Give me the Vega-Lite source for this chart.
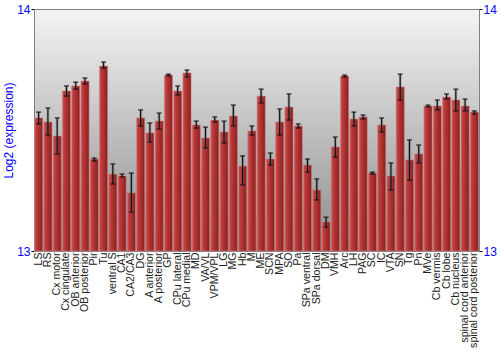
{
  "$schema": "https://vega.github.io/schema/vega-lite/v6.json",
  "width": 445,
  "height": 242,
  "autosize": "none",
  "padding": {"left": 34, "top": 9, "right": 21, "bottom": 99},
  "background": "white",
  "config": {
    "font": "Liberation Sans",
    "view": {
      "stroke": "#808080",
      "strokeWidth": 1,
      "fill": {"gradient": "linear", "x1": 0, "y1": 0, "x2": 0, "y2": 1,
        "stops": [{"offset": 0, "color": "#f4f4f4"}, {"offset": 1, "color": "#8c8c8c"}]}
    }
  },
  "data": {
    "values": [
      {"region": "LS", "value": 13.550, "lo": 13.525, "hi": 13.574},
      {"region": "RS", "value": 13.533, "lo": 13.479, "hi": 13.591},
      {"region": "Cx motor", "value": 13.475, "lo": 13.401, "hi": 13.550},
      {"region": "Cx cingulate", "value": 13.661, "lo": 13.640, "hi": 13.682},
      {"region": "OB anterior", "value": 13.682, "lo": 13.669, "hi": 13.698},
      {"region": "OB posterior", "value": 13.702, "lo": 13.690, "hi": 13.715},
      {"region": "Pir", "value": 13.380, "lo": 13.372, "hi": 13.384},
      {"region": "Tu", "value": 13.764, "lo": 13.756, "hi": 13.781},
      {"region": "ventral S", "value": 13.318, "lo": 13.277, "hi": 13.360},
      {"region": "CA1", "value": 13.310, "lo": 13.306, "hi": 13.318},
      {"region": "CA2/CA3", "value": 13.240, "lo": 13.161, "hi": 13.322},
      {"region": "DG", "value": 13.550, "lo": 13.517, "hi": 13.583},
      {"region": "A anterior", "value": 13.488, "lo": 13.450, "hi": 13.529},
      {"region": "A posterior", "value": 13.537, "lo": 13.504, "hi": 13.570},
      {"region": "GP", "value": 13.727, "lo": 13.723, "hi": 13.731},
      {"region": "CPu lateral", "value": 13.661, "lo": 13.645, "hi": 13.682},
      {"region": "CPu medial", "value": 13.736, "lo": 13.719, "hi": 13.748},
      {"region": "MD", "value": 13.521, "lo": 13.508, "hi": 13.537},
      {"region": "VA/VL", "value": 13.467, "lo": 13.426, "hi": 13.512},
      {"region": "VPM/VPL", "value": 13.541, "lo": 13.533, "hi": 13.554},
      {"region": "LG", "value": 13.492, "lo": 13.446, "hi": 13.537},
      {"region": "MG", "value": 13.558, "lo": 13.517, "hi": 13.603},
      {"region": "Hb", "value": 13.351, "lo": 13.273, "hi": 13.393},
      {"region": "M", "value": 13.496, "lo": 13.479, "hi": 13.517},
      {"region": "ME", "value": 13.640, "lo": 13.612, "hi": 13.669},
      {"region": "SCN", "value": 13.380, "lo": 13.355, "hi": 13.405},
      {"region": "MPA", "value": 13.533, "lo": 13.479, "hi": 13.587},
      {"region": "SO", "value": 13.595, "lo": 13.541, "hi": 13.649},
      {"region": "Pa", "value": 13.517, "lo": 13.508, "hi": 13.525},
      {"region": "SPa ventral", "value": 13.355, "lo": 13.326, "hi": 13.380},
      {"region": "SPa dorsal", "value": 13.252, "lo": 13.211, "hi": 13.298},
      {"region": "DM", "value": 13.120, "lo": 13.099, "hi": 13.140},
      {"region": "VMH", "value": 13.430, "lo": 13.388, "hi": 13.471},
      {"region": "Arc", "value": 13.723, "lo": 13.719, "hi": 13.727},
      {"region": "LH", "value": 13.545, "lo": 13.517, "hi": 13.574},
      {"region": "PAG", "value": 13.554, "lo": 13.545, "hi": 13.562},
      {"region": "SC", "value": 13.322, "lo": 13.318, "hi": 13.326},
      {"region": "IC", "value": 13.521, "lo": 13.492, "hi": 13.550},
      {"region": "VTA", "value": 13.310, "lo": 13.252, "hi": 13.364},
      {"region": "SN", "value": 13.678, "lo": 13.624, "hi": 13.731},
      {"region": "Tg", "value": 13.376, "lo": 13.293, "hi": 13.459},
      {"region": "Pn", "value": 13.401, "lo": 13.364, "hi": 13.438},
      {"region": "MVe", "value": 13.599, "lo": 13.595, "hi": 13.603},
      {"region": "Cb vermis", "value": 13.599, "lo": 13.583, "hi": 13.624},
      {"region": "Cb lobe", "value": 13.636, "lo": 13.628, "hi": 13.649},
      {"region": "Cb nucleus", "value": 13.624, "lo": 13.579, "hi": 13.669},
      {"region": "spinal cord anterior", "value": 13.599, "lo": 13.579, "hi": 13.628},
      {"region": "spinal cord posterior", "value": 13.574, "lo": 13.566, "hi": 13.579}
    ]
  },
  "encoding": {
    "x": {
      "field": "region", "type": "nominal", "sort": null,
      "scale": {"paddingInner": 0.12, "paddingOuter": 0.06},
      "axis": {"title": null, "labelAngle": -90, "labelAlign": "right", "labelBaseline": "middle",
        "labelFontSize": 10.6, "labelColor": "#222222", "labelFont": "Liberation Sans",
        "ticks": false, "domain": false, "labelPadding": 1, "labelOverlap": false}
    }
  },
  "layer": [
    {
      "mark": {"type": "bar",
        "color": {"gradient": "linear", "x1": 0, "y1": 0, "x2": 1, "y2": 0,
          "stops": [{"offset": 0, "color": "#cc5555"}, {"offset": 0.25, "color": "#bd3a3a"}, {"offset": 1, "color": "#8a1f1f"}]},
        "stroke": "#d08080", "strokeOpacity": 0.6, "strokeWidth": 1},
      "encoding": {
        "y": {"field": "value", "type": "quantitative",
          "scale": {"domain": [13, 14], "nice": false, "zero": false},
          "axis": {"orient": "left", "values": [13, 14], "format": "d", "title": "Log2 (expression)", "titleColor": "#0000ff",
            "titleFontWeight": "normal", "titleFontSize": 12, "titleFont": "Liberation Sans", "titlePadding": 1,
            "labelColor": "#0000ff", "labelFontSize": 12, "labelFont": "Liberation Sans", "labelPadding": 1,
            "tickSize": 3, "tickColor": "#000000", "domainColor": "#808080", "grid": false}},
        "y2": {"datum": 13}
      }
    },
    {
      "mark": {"type": "rule", "color": "#666666", "strokeWidth": 3, "opacity": 0.35},
      "encoding": {
        "y": {"field": "lo", "type": "quantitative",
          "scale": {"domain": [13, 14], "nice": false, "zero": false},
          "axis": {"orient": "right", "values": [13, 14], "format": "d", "title": null,
            "labelColor": "#0000ff", "labelFontSize": 12, "labelFont": "Liberation Sans", "labelPadding": 1,
            "tickSize": 3, "tickColor": "#000000", "domainColor": "#808080", "grid": false}},
        "y2": {"field": "hi"}
      }
    },
    {
      "mark": {"type": "rule", "color": "#111111", "strokeWidth": 1.2},
      "encoding": {
        "y": {"field": "lo", "type": "quantitative", "scale": {"domain": [13, 14], "nice": false, "zero": false}, "axis": null},
        "y2": {"field": "hi"}
      }
    },
    {
      "mark": {"type": "tick", "orient": "horizontal", "color": "#111111", "size": 5, "thickness": 1.5},
      "encoding": {
        "y": {"field": "lo", "type": "quantitative", "scale": {"domain": [13, 14], "nice": false, "zero": false}, "axis": null}
      }
    },
    {
      "mark": {"type": "tick", "orient": "horizontal", "color": "#111111", "size": 5, "thickness": 1.5},
      "encoding": {
        "y": {"field": "hi", "type": "quantitative", "scale": {"domain": [13, 14], "nice": false, "zero": false}, "axis": null}
      }
    }
  ],
  "resolve": {"axis": {"y": "independent"}}
}
